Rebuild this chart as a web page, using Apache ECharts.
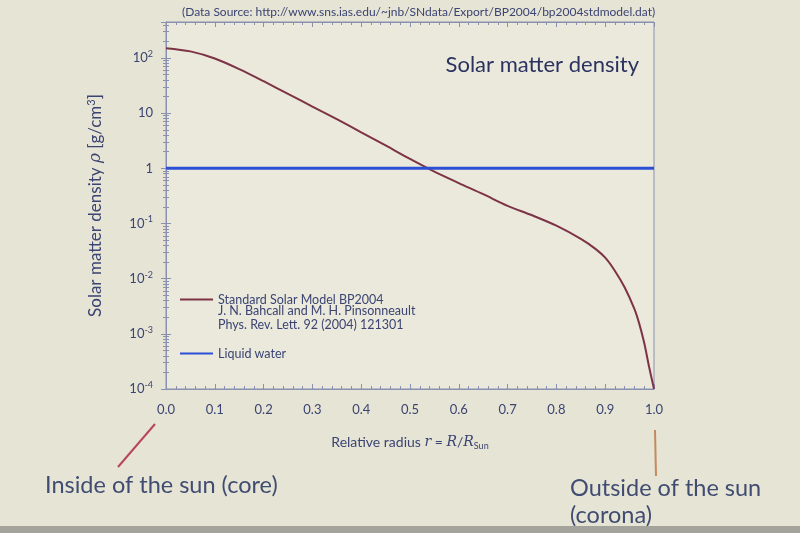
<!DOCTYPE html>
<html lang="en">
<head>
<meta charset="UTF-8">
<title>Solar matter density</title>
<script src="https://cdn.jsdelivr.net/npm/echarts@6/dist/echarts.min.js"></script>
<style>
  html, body { margin: 0; padding: 0; background: #e6e4d5; }
  #chart { width: 800px; height: 533px; }
</style>
</head>
<body>
<div id="chart"></div>
<script>
// relative radius r = R / R_sun and density in g/cm^3
const radius = [0, 0.05, 0.1, 0.15, 0.2, 0.25, 0.3, 0.35, 0.4, 0.45, 0.5, 0.55, 0.6, 0.65, 0.7,
                0.75, 0.8, 0.85, 0.88, 0.9, 0.92, 0.94, 0.96, 0.97, 0.98, 0.99, 1.0];
const density = [151, 132, 98, 63, 38, 22.4, 13.2, 7.8, 4.5, 2.6, 1.48, 0.87, 0.54, 0.34, 0.209,
                 0.141, 0.0912, 0.0525, 0.0347, 0.024, 0.0138, 0.0069, 0.0028, 0.0015, 0.00068, 0.00025, 0.0001];
// liquid water, 1 g/cm^3 across the whole range
const waterR = [0, 1];
const waterRho = [1, 1];

const xTicks = [0, 0.1, 0.2, 0.3, 0.4, 0.5, 0.6, 0.7, 0.8, 0.9, 1.0];

const textCol = '#3b4472';
const frameCol = '#8a90b0';
const font = 'Lato, "Open Sans", sans-serif';

function yLabel(v) {
  const e = Math.log10(v);
  const n = Math.round(e);
  if (Math.abs(e - n) > 0.01) return '';
  if (n === 0) return '1';
  if (n === 1) return '10';
  return '10{sup|' + n + '}';
}

const chart = echarts.init(document.getElementById('chart'));
chart.setOption({
  backgroundColor: '#e6e4d5',
  animation: false,
  textStyle: { fontFamily: font },
  grid: { left: 166, right: 146, top: 22, bottom: 144, show: true, backgroundColor: '#eae9dc', borderColor: frameCol, borderWidth: 1 },
  title: {
    text: 'Solar matter density',
    right: 156, top: 49,
    textStyle: { fontSize: 22, fontWeight: 'normal', color: '#2b3260', fontFamily: font }
  },
  legend: {
    orient: 'vertical', left: 175, top: 288,
    icon: 'rect', itemWidth: 33, itemHeight: 2, itemGap: 41,
    textStyle: { fontSize: 12.5, color: textCol, fontFamily: font },
    data: ['Standard Solar Model BP2004', 'Liquid water']
  },
  xAxis: [{
    type: 'value', min: 0, max: 1, interval: 0.1,
    name: '{a|Relative radius }{i|r}{a| = }{i|R}{a|/}{i|R}{sub|Sun}',
    nameLocation: 'middle', nameGap: 44,
    nameTextStyle: {
      rich: {
        a: { fontSize: 14, color: textCol, fontFamily: font },
        i: { fontSize: 14, color: textCol, fontStyle: 'italic', fontFamily: 'DejaVu Serif' },
        sub: { fontSize: 9, color: textCol, verticalAlign: 'bottom', padding: [9, 0, 0, 0], fontFamily: font }
      }
    },
    axisLine: { lineStyle: { color: frameCol } },
    axisTick: { inside: true, length: 5, lineStyle: { color: frameCol } },
    minorTick: { show: true, splitNumber: 5, length: 3, lineStyle: { color: frameCol } },
    splitLine: { show: false },
    axisLabel: { fontSize: 13, color: textCol, margin: 14, formatter: v => xTicks.indexOf(Math.round(v * 10) / 10) >= 0 ? v.toFixed(1) : '' }
  }, {
    type: 'value', min: 0, max: 1, interval: 0.1, position: 'top',
    axisLine: { lineStyle: { color: frameCol } },
    axisTick: { inside: true, length: 5, lineStyle: { color: frameCol } },
    minorTick: { show: true, splitNumber: 5, length: 3, lineStyle: { color: frameCol } },
    splitLine: { show: false }, axisLabel: { show: false }
  }],
  yAxis: [{
    type: 'log', logBase: 10, min: 0.0001, max: 450,
    name: '{a|Solar matter density }{i|ρ}{a| [g/cm}{sup|3}{a|]}',
    nameLocation: 'middle', nameGap: 60, nameRotate: 90,
    nameTextStyle: {
      rich: {
        a: { fontSize: 17, color: textCol, fontFamily: font },
        i: { fontSize: 17, color: textCol, fontStyle: 'italic', fontFamily: 'DejaVu Serif' },
        sup: { fontSize: 11, color: textCol, verticalAlign: 'top', padding: [0, 0, 9, 0], fontFamily: font }
      }
    },
    axisLine: { show: true, lineStyle: { color: frameCol } },
    axisTick: { inside: true, length: 5, lineStyle: { color: frameCol } },
    minorTick: { show: true, splitNumber: 9, length: 3, lineStyle: { color: frameCol } },
    splitLine: { show: false },
    axisLabel: {
      showMaxLabel: false, margin: 13, fontSize: 13, color: textCol,
      formatter: yLabel,
      rich: { sup: { fontSize: 9, color: textCol, verticalAlign: 'top', padding: [0, 0, 8, 0] } }
    }
  }, {
    type: 'log', logBase: 10, min: 0.0001, max: 450, position: 'right',
    axisLine: { show: true, lineStyle: { color: frameCol } },
    axisTick: { inside: true, length: 5, lineStyle: { color: frameCol } },
    minorTick: { show: true, splitNumber: 9, length: 3, lineStyle: { color: frameCol } },
    splitLine: { show: false }, axisLabel: { show: false }
  }],
  series: [{
    name: 'Standard Solar Model BP2004',
    type: 'line', smooth: 0.3, symbol: 'none',
    lineStyle: { color: '#7d3346', width: 2 },
    itemStyle: { color: '#7d3346' },
    data: radius.map((r, i) => [r, density[i]])
  }, {
    name: 'Liquid water',
    type: 'line', symbol: 'none',
    lineStyle: { color: '#2d4fd6', width: 3 },
    itemStyle: { color: '#2d4fd6' },
    data: waterR.map((r, i) => [r, waterRho[i]])
  }],
  graphic: [
    { type: 'text', left: 182, top: 6, style: { text: '(Data Source: http://www.sns.ias.edu/~jnb/SNdata/Export/BP2004/bp2004stdmodel.dat)', fontSize: 12, fill: textCol, fontFamily: font } },
    { type: 'text', left: 218, top: 304, style: { text: 'J. N. Bahcall and M. H. Pinsonneault\nPhys. Rev. Lett. 92 (2004) 121301', fontSize: 12.5, lineHeight: 14, fill: textCol, fontFamily: font } },
    { type: 'line', shape: { x1: 155, y1: 424, x2: 118, y2: 467 }, style: { stroke: '#b8465a', lineWidth: 2 } },
    { type: 'line', shape: { x1: 655, y1: 430, x2: 656, y2: 476 }, style: { stroke: '#c58a5c', lineWidth: 2 } },
    { type: 'text', left: 45, top: 473, style: { text: 'Inside of the sun (core)', fontSize: 23.5, fill: '#414c72', fontFamily: font } },
    { type: 'text', left: 570, top: 475, style: { text: 'Outside of the sun\n(corona)', fontSize: 23.5, lineHeight: 27, fill: '#414c72', fontFamily: font } },
    { type: 'rect', left: 0, top: 526, shape: { width: 800, height: 7 }, style: { fill: '#a3a39c' } }
  ]
});
</script>
</body>
</html>
